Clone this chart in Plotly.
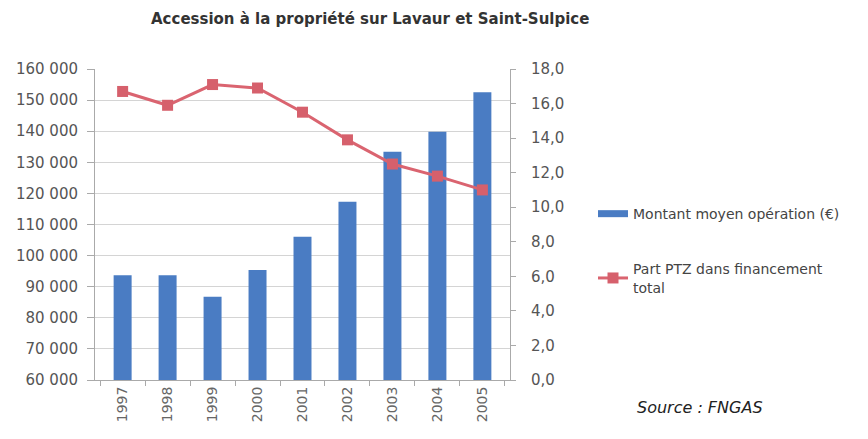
import plotly.graph_objects as go

years = ["1997", "1998", "1999", "2000", "2001", "2002", "2003", "2004", "2005"]
montant_moyen = [93700, 93700, 86800, 95400, 106100, 117300, 133400, 139800, 152500]
part_ptz = [16.7, 15.9, 17.1, 16.9, 15.5, 13.9, 12.5, 11.8, 11.0]

left_ticks = list(range(60000, 160001, 10000))
right_ticks = [0, 2, 4, 6, 8, 10, 12, 14, 16, 18]

FONT = "DejaVu Sans, Verdana, sans-serif"
axis_font = dict(family=FONT, size=15, color="#555555")
BLUE = "#4a7cc3"
RED = "#da6470"

fig = go.Figure()
fig.add_trace(go.Bar(
    x=years, y=montant_moyen, name="Montant moyen opération (€)",
    marker=dict(color=BLUE, line=dict(width=0)),
    showlegend=False, yaxis="y",
))
# wide flat legend swatch for the bar series
fig.add_trace(go.Scatter(
    x=[None], y=[None], name="Montant moyen opération (€)",
    mode="lines", line=dict(color=BLUE, width=7),
    legendgroup="bars", yaxis="y",
))
fig.add_trace(go.Scatter(
    x=years, y=part_ptz, name="Part PTZ dans financement<br>total",
    mode="lines+markers",
    line=dict(color=RED, width=3),
    marker=dict(symbol="square", size=11, color="#d6606c"),
    legendgroup="ptz", yaxis="y2",
))

fig.update_layout(
    width=868, height=439,
    margin=dict(l=95, r=358, t=69, b=59),
    paper_bgcolor="white", plot_bgcolor="white",
    separators=", ",
    bargap=0.6,
    showlegend=True,
    legend=dict(
        x=1.2, y=0.585, xanchor="left", yanchor="top",
        font=dict(family=FONT, size=14, color="#444444"),
        traceorder="grouped", tracegroupgap=34, bgcolor="rgba(0,0,0,0)",
    ),
    xaxis=dict(
        type="category", tickangle=-90,
        tickfont=dict(family=FONT, size=14, color="#666666"),
        showline=True, linecolor="#aaaaaa", linewidth=1,
        ticks="outside", tickson="boundaries", ticklen=5, tickcolor="#aaaaaa",
        showgrid=False,
    ),
    yaxis=dict(
        range=[60000, 160000], tickvals=left_ticks, tickformat=",d",
        tickfont=axis_font, showline=True, linecolor="#aaaaaa",
        ticks="outside", ticklen=7, tickcolor="#aaaaaa", ticklabelstandoff=6,
        showgrid=True, gridcolor="#d4d4d4", gridwidth=1, zeroline=False,
    ),
    yaxis2=dict(
        range=[0, 18], tickvals=right_ticks, tickformat=".1f",
        overlaying="y", side="right", tickfont=axis_font,
        showline=True, linecolor="#aaaaaa",
        ticks="outside", ticklen=5, tickcolor="#aaaaaa", ticklabelstandoff=12,
        showgrid=False, zeroline=False,
    ),
    annotations=[
        dict(text="<b>Accession à la propriété sur Lavaur et Saint-Sulpice</b>",
             xref="paper", yref="paper", x=0.663, y=1.16, xanchor="center", yanchor="middle",
             showarrow=False,
             font=dict(family=FONT, size=15, color="#333333")),
        dict(text="<i>Source : FNGAS</i>",
             xref="paper", yref="paper", x=1.302, y=-0.09, xanchor="left", yanchor="middle",
             showarrow=False,
             font=dict(family=FONT, size=16, color="#222222")),
    ],
)

fig.write_html("out.html")
